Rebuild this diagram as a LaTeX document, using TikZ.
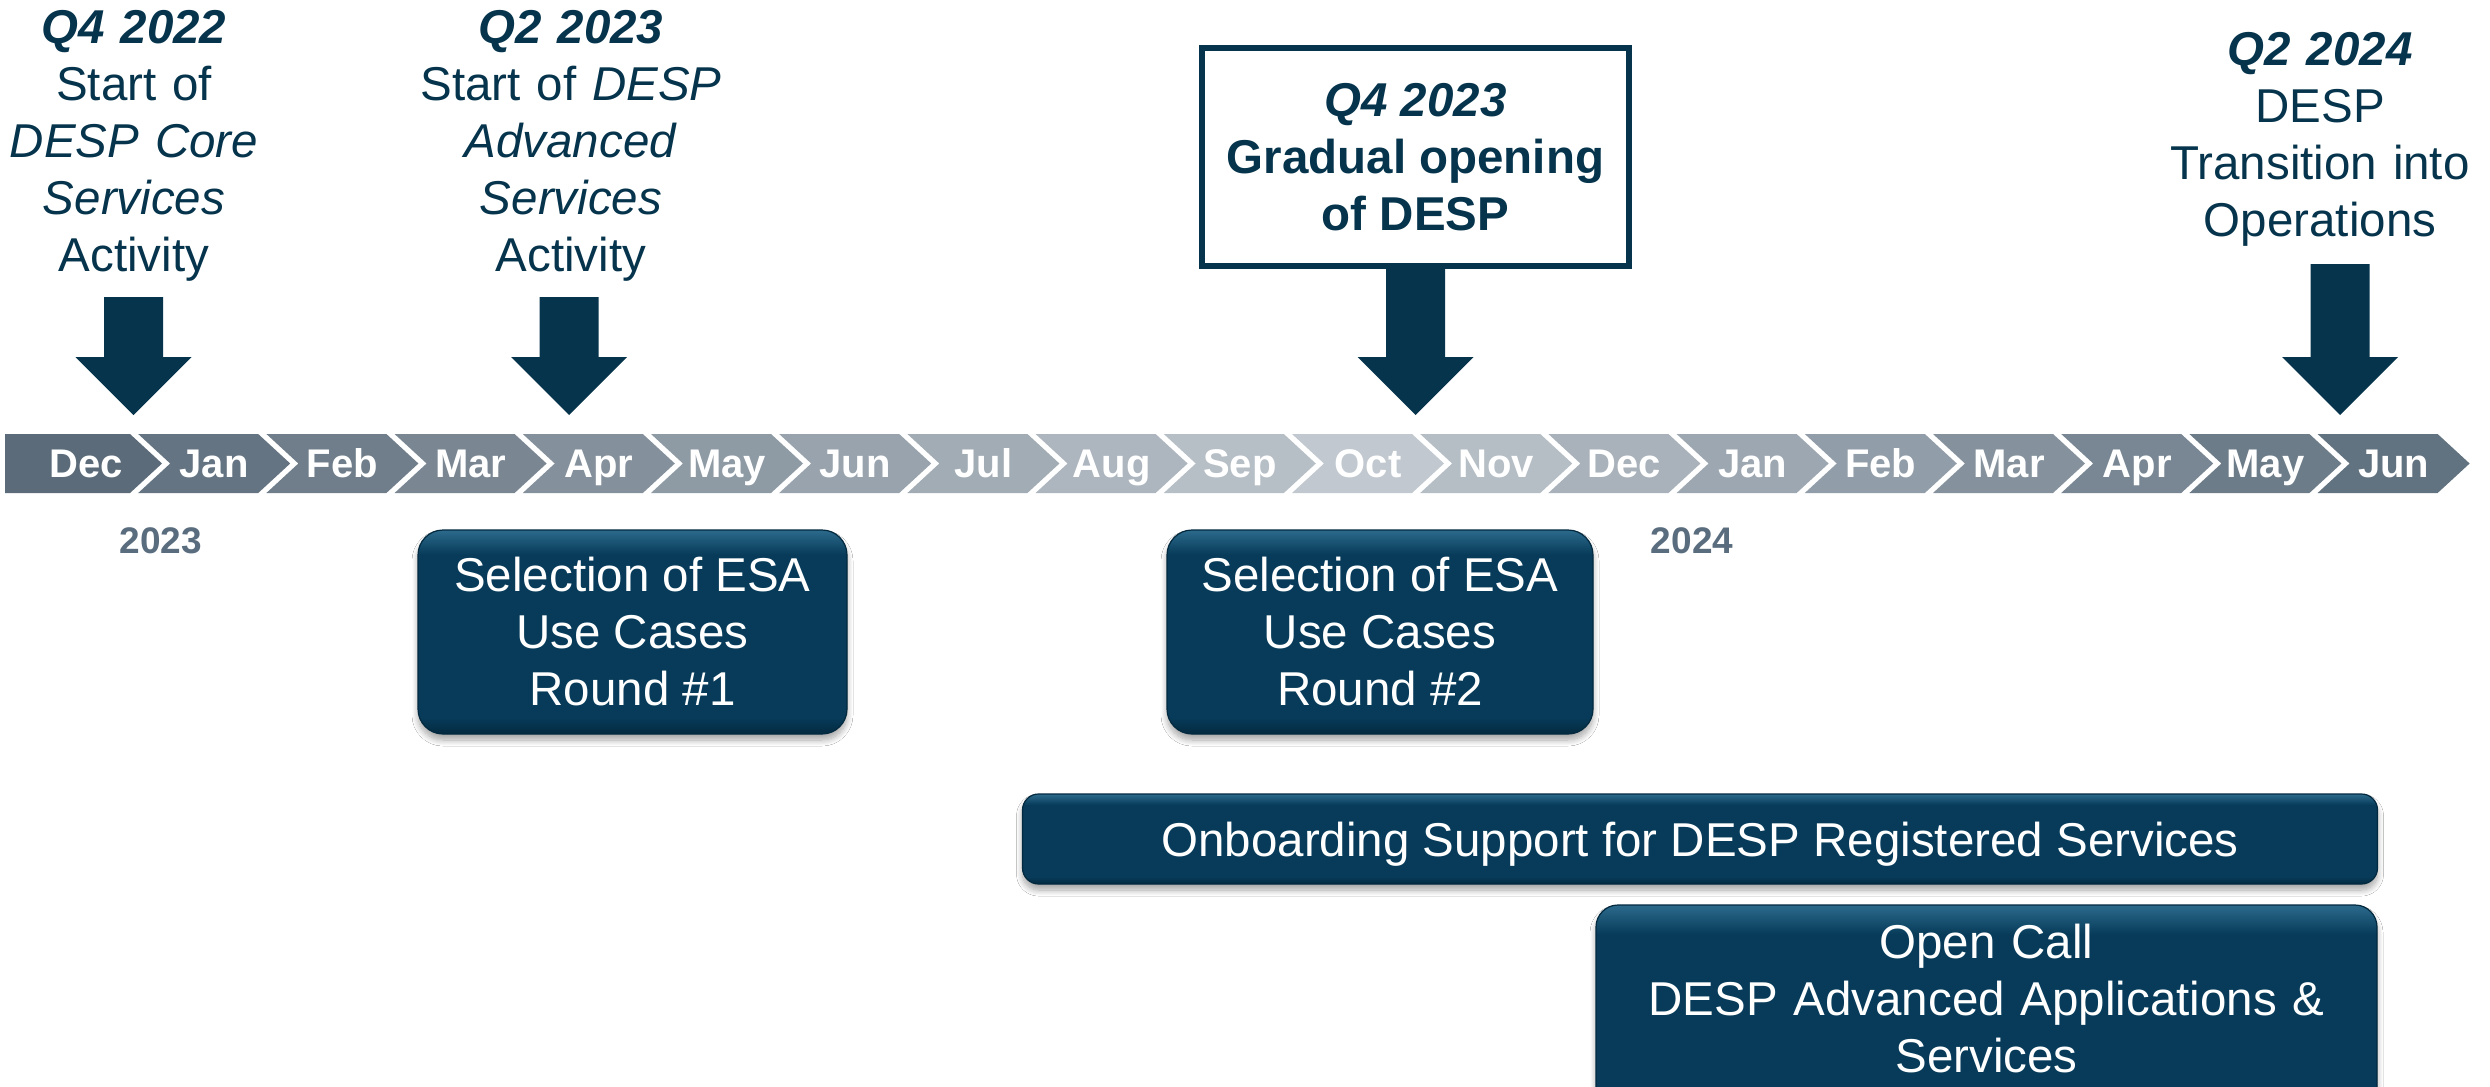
\documentclass[tikz,border=0pt]{standalone}
\usepackage{fontspec}
\setmainfont{Liberation Sans}
\usetikzlibrary{shadows,shadows.blur}
\definecolor{navy}{HTML}{05344C}
\definecolor{yearcol}{HTML}{5A6D7E}
\definecolor{chevlight}{HTML}{C1C8CF}
\definecolor{chevdarkL}{HTML}{5B6B79}
\definecolor{chevdarkR}{HTML}{617280}
\definecolor{boxhi}{HTML}{2C6A8C}
\definecolor{boxmid}{HTML}{073B59}
\definecolor{boxbot}{HTML}{03293F}
\pgfdeclareverticalshading{boxshade}{100bp}{color(0bp)=(boxbot); color(25bp)=(boxbot); color(29bp)=(boxmid); color(69bp)=(boxmid); color(75bp)=(boxhi); color(100bp)=(boxhi)}
\newcommand\dnblockarrow[3]{%
  \fill[navy] (#1-29.5,#2) -- (#1+29.5,#2) -- (#1+29.5,357) -- (#1+58,357) -- (#1,#3) -- (#1-58,357) -- (#1-29.5,357) -- cycle;}
\begin{document}
\begin{tikzpicture}[x=1pt,y=-1pt,
  toptext/.style={font=\fontsize{47.5}{57}\selectfont, text=navy, align=center, text width=600pt, anchor=base, inner sep=0pt},
  month/.style={font=\fontsize{40}{48}\selectfont\bfseries, text=white, anchor=base, inner sep=0pt},
  year/.style={font=\fontsize{37}{44}\selectfont\bfseries, text=yearcol, anchor=base, inner sep=0pt},
  bluebox/.style={shade, shading=boxshade, draw=boxbot, line width=1.2pt, rounded corners=#1,
    blur shadow={shadow blur steps=10, shadow xshift=0pt, shadow yshift=-6pt, shadow blur radius=6pt, shadow opacity=35},
    text=white, font=\fontsize{47.5}{57}\selectfont, align=center, inner sep=0pt},
  bluebox/.default=25pt,
  milestone/.style={draw=navy, line width=6pt, fill=white, inner sep=0pt, text=navy,
    font=\fontsize{47.5}{57}\selectfont\bfseries, align=center}
]
\fill[white] (0,0) rectangle (2490,1087);
\useasboundingbox (0,0) rectangle (2490,1087);
\clip (0,0) rectangle (2490,1087);

% timeline chevrons
\foreach \mname [count=\k from 0] in {Dec,Jan,Feb,Mar,Apr,May,Jun,Jul,Aug,Sep,Oct,Nov,Dec,Jan,Feb,Mar,Apr,May,Jun} {
  \pgfmathsetmacro\xr{130+128.2*\k}
  \pgfmathsetmacro\xl{\xr-120}
  \ifnum\k>10
    \pgfmathtruncatemacro\pct{100-12.5*(\k-10)}
    \colorlet{cc}{chevlight!\pct!chevdarkR}
  \else
    \pgfmathtruncatemacro\pct{10*\k}
    \colorlet{cc}{chevlight!\pct!chevdarkL}
  \fi
  \ifnum\k=0
    \fill[cc] (5,434) -- (\xr,434) -- (\xr+32,463.5) -- (\xr,493) -- (5,493) -- cycle;
  \else
    \fill[cc] (\xl,434) -- (\xr,434) -- (\xr+32,463.5) -- (\xr,493) -- (\xl,493) -- (\xl+32,463.5) -- cycle;
  \fi
  \node[month] (m\k) at ({(\xl+\xr)/2+16}, 477) {\mname};
}

% years
\node[year] (y2023) at (161,553) {2023};
\node[year] (y2024) at (1692,553) {2024};

% top milestones
\node[toptext] (ms1) at (134,43) {\textbf{\textit{Q4 2022}}\\Start of\\\textit{DESP Core}\\\textit{Services}\\Activity};
\node[toptext] (ms2) at (571,43) {\textbf{\textit{Q2 2023}}\\Start of \textit{DESP}\\\textit{Advanced}\\\textit{Services}\\Activity};
\node[milestone, minimum width=427pt, minimum height=218pt] (ms3) at (1415.5,157) {\textit{Q4 2023}\\Gradual opening\\of DESP};
\node[toptext] (ms4) at (2320,65) {\textbf{\textit{Q2 2024}}\\DESP\\Transition into\\Operations};

% block arrows
\dnblockarrow{133.5}{297}{415}
\dnblockarrow{569}{297}{415}
\dnblockarrow{1415.5}{269}{415}
\dnblockarrow{2340}{264}{415}

% activity boxes
\node[bluebox, minimum width=429pt, minimum height=204pt] (sel1) at (632.5,632) {Selection of ESA\\Use Cases\\Round \#1};
\node[bluebox, minimum width=426pt, minimum height=204pt] (sel2) at (1380,632) {Selection of ESA\\Use Cases\\Round \#2};
\node[bluebox=16pt, minimum width=1355pt, minimum height=90pt, text height=35pt, text depth=0pt] (onb) at (1700,839) {Onboarding Support for DESP Registered Services};
\node[bluebox=22pt, minimum width=781pt, minimum height=245pt] (oc) at (1986.5,1027.5) {};
\node[toptext, text=white, text width=800pt] (octext) at (1986.5,958) {Open Call\\DESP Advanced Applications \&\\Services};
\end{tikzpicture}
\end{document}
